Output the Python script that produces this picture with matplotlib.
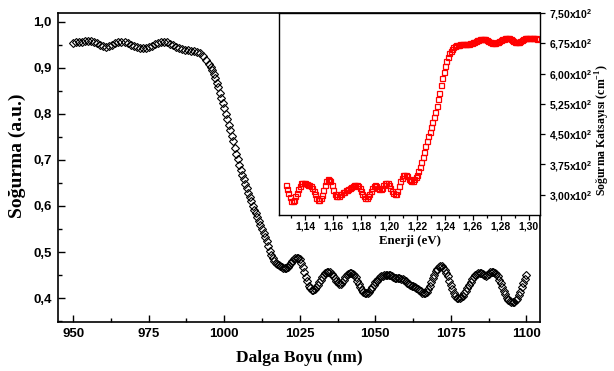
import matplotlib
matplotlib.use("Agg")
import matplotlib.pyplot as plt
from matplotlib.ticker import FixedLocator, MultipleLocator, AutoMinorLocator, FuncFormatter

# main curve: absorbance vs wavelength (nm)
wavelength = [
    950, 951, 952, 953, 954, 955, 956, 957, 958, 959,
    960, 961, 962, 963, 964, 965, 966, 967, 968, 969,
    970, 971, 972, 973, 974, 975, 976, 977, 978, 979,
    980, 981, 982, 983, 984, 985, 986, 987, 988, 989,
    990, 991, 992, 993, 994, 995, 995.5, 996, 996.5, 997,
    997.5, 998, 998.5, 999, 999.5, 1000, 1000.5, 1001, 1001.5, 1002,
    1002.5, 1003, 1003.5, 1004, 1004.5, 1005, 1005.5, 1006, 1006.5, 1007,
    1007.5, 1008, 1008.5, 1009, 1009.5, 1010, 1010.5, 1011, 1011.5, 1012,
    1012.5, 1013, 1013.5, 1014, 1014.5, 1015, 1015.5, 1016, 1016.5, 1017,
    1017.5, 1018, 1018.5, 1019, 1019.5, 1020, 1020.5, 1021, 1021.5, 1022,
    1022.5, 1023, 1023.5, 1024, 1024.5, 1025, 1025.5, 1026, 1026.5, 1027,
    1027.5, 1028, 1028.5, 1029, 1029.5, 1030, 1030.5, 1031, 1031.5, 1032,
    1032.5, 1033, 1033.5, 1034, 1034.5, 1035, 1035.5, 1036, 1036.5, 1037,
    1037.5, 1038, 1038.5, 1039, 1039.5, 1040, 1040.5, 1041, 1041.5, 1042,
    1042.5, 1043, 1043.5, 1044, 1044.5, 1045, 1045.5, 1046, 1046.5, 1047,
    1047.5, 1048, 1048.5, 1049, 1049.5, 1050, 1050.5, 1051, 1051.5, 1052,
    1052.5, 1053, 1053.5, 1054, 1054.5, 1055, 1055.5, 1056, 1056.5, 1057,
    1057.5, 1058, 1058.5, 1059, 1059.5, 1060, 1060.5, 1061, 1061.5, 1062,
    1062.5, 1063, 1063.5, 1064, 1064.5, 1065, 1065.5, 1066, 1066.5, 1067,
    1067.5, 1068, 1068.5, 1069, 1069.5, 1070, 1070.5, 1071, 1071.5, 1072,
    1072.5, 1073, 1073.5, 1074, 1074.5, 1075, 1075.5, 1076, 1076.5, 1077,
    1077.5, 1078, 1078.5, 1079, 1079.5, 1080, 1080.5, 1081, 1081.5, 1082,
    1082.5, 1083, 1083.5, 1084, 1084.5, 1085, 1085.5, 1086, 1086.5, 1087,
    1087.5, 1088, 1088.5, 1089, 1089.5, 1090, 1090.5, 1091, 1091.5, 1092,
    1092.5, 1093, 1093.5, 1094, 1094.5, 1095, 1095.5, 1096, 1096.5, 1097,
    1097.5, 1098, 1098.5, 1099, 1099.5, 1100,
]
absorbance = [
    0.954, 0.955, 0.956, 0.957, 0.958, 0.959, 0.959, 0.957, 0.954, 0.950,
    0.947, 0.946, 0.947, 0.950, 0.953, 0.956, 0.957, 0.956, 0.953, 0.950,
    0.947, 0.945, 0.943, 0.942, 0.943, 0.945, 0.948, 0.951, 0.954, 0.956,
    0.956, 0.955, 0.952, 0.949, 0.946, 0.943, 0.941, 0.939, 0.938, 0.937,
    0.936, 0.935, 0.932, 0.926, 0.918, 0.908, 0.902, 0.895, 0.887, 0.878,
    0.868, 0.858, 0.846, 0.834, 0.823, 0.812, 0.800, 0.789, 0.776, 0.764,
    0.752, 0.740, 0.726, 0.713, 0.701, 0.690, 0.679, 0.668, 0.658, 0.648,
    0.638, 0.628, 0.619, 0.610, 0.601, 0.592, 0.584, 0.576, 0.568, 0.559,
    0.550, 0.541, 0.532, 0.523, 0.513, 0.503, 0.494, 0.486, 0.481, 0.477,
    0.474, 0.471, 0.469, 0.467, 0.466, 0.465, 0.466, 0.468, 0.472, 0.476,
    0.480, 0.484, 0.487, 0.488, 0.487, 0.484, 0.477, 0.468, 0.457, 0.446,
    0.436, 0.427, 0.421, 0.418, 0.418, 0.420, 0.423, 0.428, 0.434, 0.440,
    0.446, 0.451, 0.455, 0.457, 0.457, 0.456, 0.453, 0.449, 0.444, 0.438,
    0.434, 0.431, 0.431, 0.434, 0.439, 0.445, 0.450, 0.453, 0.455, 0.455,
    0.453, 0.450, 0.445, 0.438, 0.431, 0.424, 0.418, 0.413, 0.411, 0.410,
    0.411, 0.414, 0.419, 0.424, 0.429, 0.434, 0.438, 0.442, 0.445, 0.447,
    0.449, 0.450, 0.451, 0.451, 0.451, 0.450, 0.448, 0.446, 0.444, 0.443,
    0.443, 0.443, 0.442, 0.441, 0.439, 0.436, 0.433, 0.431, 0.429, 0.427,
    0.426, 0.424, 0.422, 0.420, 0.418, 0.415, 0.412, 0.411, 0.411, 0.414,
    0.419, 0.426, 0.434, 0.443, 0.451, 0.459, 0.464, 0.468, 0.469, 0.469,
    0.466, 0.462, 0.455, 0.447, 0.438, 0.428, 0.419, 0.411, 0.405, 0.401,
    0.400, 0.400, 0.402, 0.405, 0.410, 0.416, 0.422, 0.429, 0.435, 0.441,
    0.446, 0.450, 0.452, 0.454, 0.455, 0.454, 0.452, 0.450, 0.449, 0.450,
    0.453, 0.456, 0.457, 0.457, 0.455, 0.452, 0.447, 0.440, 0.432, 0.424,
    0.416, 0.408, 0.401, 0.396, 0.393, 0.392, 0.391, 0.392, 0.395, 0.399,
    0.406, 0.414, 0.423, 0.432, 0.442, 0.451,
]

# inset: absorption coefficient vs photon energy (eV)
energy = [
    1.126, 1.127, 1.128, 1.129, 1.130, 1.131, 1.132, 1.133, 1.134, 1.135,
    1.136, 1.137, 1.138, 1.139, 1.140, 1.141, 1.142, 1.143, 1.144, 1.145,
    1.146, 1.147, 1.148, 1.149, 1.150, 1.151, 1.152, 1.153, 1.154, 1.155,
    1.156, 1.157, 1.158, 1.159, 1.160, 1.161, 1.162, 1.163, 1.164, 1.165,
    1.166, 1.167, 1.168, 1.169, 1.170, 1.171, 1.172, 1.173, 1.174, 1.175,
    1.176, 1.177, 1.178, 1.179, 1.180, 1.181, 1.182, 1.183, 1.184, 1.185,
    1.186, 1.187, 1.188, 1.189, 1.190, 1.191, 1.192, 1.193, 1.194, 1.195,
    1.196, 1.197, 1.198, 1.199, 1.200, 1.201, 1.202, 1.203, 1.204, 1.205,
    1.206, 1.207, 1.208, 1.209, 1.210, 1.211, 1.212, 1.213, 1.214, 1.215,
    1.216, 1.217, 1.218, 1.219, 1.220, 1.221, 1.222, 1.223, 1.224, 1.225,
    1.226, 1.227, 1.228, 1.229, 1.230, 1.231, 1.232, 1.233, 1.234, 1.235,
    1.236, 1.237, 1.238, 1.239, 1.240, 1.241, 1.242, 1.243, 1.244, 1.245,
    1.246, 1.247, 1.248, 1.249, 1.250, 1.251, 1.252, 1.253, 1.254, 1.255,
    1.256, 1.257, 1.258, 1.259, 1.260, 1.261, 1.262, 1.263, 1.264, 1.265,
    1.266, 1.267, 1.268, 1.269, 1.270, 1.271, 1.272, 1.273, 1.274, 1.275,
    1.276, 1.277, 1.278, 1.279, 1.280, 1.281, 1.282, 1.283, 1.284, 1.285,
    1.286, 1.287, 1.288, 1.289, 1.290, 1.291, 1.292, 1.293, 1.294, 1.295,
    1.296, 1.297, 1.298, 1.299, 1.300, 1.301, 1.302, 1.303, 1.304, 1.305,
    1.306,
]
alpha = [
    325, 315, 305, 294, 285, 284, 288, 296, 305, 315,
    323, 328, 330, 329, 328, 326, 325, 324, 322, 317,
    310, 301, 293, 288, 288, 292, 300, 312, 325, 334,
    338, 337, 333, 324, 313, 303, 297, 296, 298, 301,
    303, 306, 308, 311, 313, 315, 317, 319, 321, 324,
    325, 324, 322, 317, 310, 302, 296, 293, 293, 296,
    302, 310, 318, 323, 325, 322, 318, 314, 314, 318,
    324, 328, 330, 328, 325, 318, 310, 304, 301, 303,
    310, 321, 333, 342, 348, 350, 350, 346, 340, 336,
    334, 335, 338, 343, 350, 358, 368, 380, 393, 407,
    421, 433, 445, 456, 468, 480, 492, 505, 519, 536,
    553, 571, 588, 604, 619, 632, 642, 651, 657, 662,
    665, 668, 670, 671, 671, 672, 672, 673, 673, 673,
    673, 674, 675, 676, 677, 678, 680, 682, 684, 685,
    686, 686, 686, 685, 683, 681, 679, 677, 676, 676,
    676, 677, 679, 681, 683, 685, 686, 687, 688, 688,
    687, 685, 683, 681, 679, 678, 678, 679, 681, 683,
    685, 687, 688, 689, 689, 689, 688, 688, 687, 687,
    686,
]

main_yticks = [0.4, 0.5, 0.6, 0.7, 0.8, 0.9, 1.0]
inset_xticks = [1.14, 1.16, 1.18, 1.20, 1.22, 1.24, 1.26, 1.28, 1.30]
inset_yticks = [300, 375, 450, 525, 600, 675, 750]

tick_font = {"family": "Liberation Sans", "weight": "bold"}
label_font = {"family": "Liberation Serif", "weight": "bold"}

fig = plt.figure(figsize=(6.14, 3.71), dpi=100)

ax = fig.add_axes([0.0945, 0.132, 0.785, 0.833])
ax.plot(wavelength, absorbance, linestyle="none", marker="D", markersize=4.2,
        markerfacecolor="none", markeredgecolor="black", markeredgewidth=0.8)
ax.set_xlim(945, 1104.5)
ax.set_ylim(0.348, 1.019)
ax.xaxis.set_major_locator(MultipleLocator(25))
ax.xaxis.set_minor_locator(AutoMinorLocator(2))
ax.yaxis.set_major_locator(FixedLocator(main_yticks))
ax.yaxis.set_minor_locator(MultipleLocator(0.05))
ax.yaxis.set_major_formatter(FuncFormatter(lambda v, p: f"{v:.1f}".replace(".", ",")))
ax.tick_params(which="both", direction="in", width=1.0)
ax.tick_params(which="major", length=5, pad=4.5)
ax.tick_params(which="minor", length=3)
for lab in ax.get_xticklabels() + ax.get_yticklabels():
    lab.set_fontproperties(tick_font)
    lab.set_fontsize(9.5)
for sp in ax.spines.values():
    sp.set_linewidth(1.2)
ax.set_xlabel("Dalga Boyu (nm)", fontsize=12.5, **label_font)
ax.set_ylabel("Soğurma (a.u.)", fontsize=14, **label_font)
ax.xaxis.set_label_coords(0.5, -0.092)
ax.yaxis.set_label_coords(-0.066, 0.537)

ins = fig.add_axes([0.4544, 0.4205, 0.4251, 0.5445])
ins.plot(energy, alpha, linestyle="none", marker="s", markersize=3.6,
         markerfacecolor="none", markeredgecolor="#ff0000", markeredgewidth=0.9)
ins.set_xlim(1.1213, 1.308)
ins.set_ylim(250, 750)
ins.xaxis.set_major_locator(FixedLocator(inset_xticks))
ins.xaxis.set_minor_locator(AutoMinorLocator(2))
ins.yaxis.set_major_locator(FixedLocator(inset_yticks))
ins.xaxis.set_major_formatter(FuncFormatter(lambda v, p: f"{v:.2f}".replace(".", ",")))
ins.yaxis.set_major_formatter(FuncFormatter(
    lambda v, p: f"{v / 100:.2f}".replace(".", ",") + r"x10$^{\mathregular{2}}$"))
ins.yaxis.tick_right()
ins.yaxis.set_label_position("right")
ins.tick_params(which="both", direction="out", width=0.9)
ins.tick_params(which="major", length=3.5, pad=1.5)
ins.tick_params(which="minor", length=2)
ins.tick_params(axis="y", pad=3)
for lab in ins.get_xticklabels() + ins.get_yticklabels():
    lab.set_fontproperties(tick_font)
    lab.set_fontsize(7.5)
for sp in ins.spines.values():
    sp.set_linewidth(1.0)
ins.set_xlabel("Enerji (eV)", fontsize=9.3, **label_font)
ins.set_ylabel("Soğurma Katsayısı (cm$^{\\mathregular{-1}}$)", fontsize=8.5,
               **label_font)
ins.xaxis.set_label_coords(0.5, -0.1)
ins.yaxis.set_label_coords(1.207, 0.42)

fig.savefig("out.png", dpi=100)
